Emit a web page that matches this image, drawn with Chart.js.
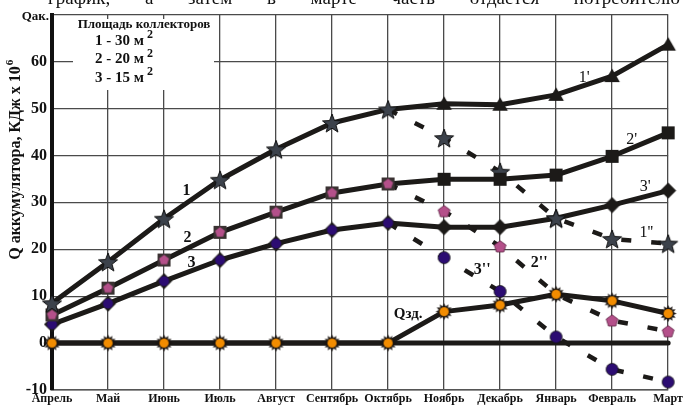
<!DOCTYPE html>
<html><head><meta charset="utf-8">
<script src="https://cdn.jsdelivr.net/npm/chart.js@4.4.1/dist/chart.umd.min.js"></script>
<style>html,body{margin:0;padding:0;background:#fff;overflow:hidden}</style>
</head><body>
<canvas id="c" width="685" height="405" style="width:685px;height:405px;display:block"></canvas>
<script>
// ---- data ----
const months = ['Апрель','Май','Июнь','Июль','Август','Сентябрь','Октябрь','Ноябрь','Декабрь','Январь','Февраль','Март'];
// charging period Apr–Oct (curves 1, 2, 3)
const curve1 = [8.5, 17.3, 26.5, 34.8, 41.3, 46.9, 49.8];
const curve2 = [6.0, 11.7, 17.7, 23.6, 27.9, 32.0, 33.9];
const curve3 = [4.0, 8.4, 13.2, 17.7, 21.2, 24.1, 25.6];
// Oct–Mar without consumption (1', 2', 3')
const curve1a = [49.8, 51.0, 50.8, 52.9, 56.9, 63.6];
const curve2a = [33.9, 34.9, 34.9, 35.8, 39.8, 44.8];
const curve3a = [25.6, 24.7, 24.7, 26.6, 29.4, 32.5];
// Oct–Mar with consumption (1'', 2'', 3'')
const curve1b = [49.8, 43.7, 36.5, 26.6, 22.2, 21.2];
const curve2b = [33.9, 28.1, 20.6, 10.4, 4.8, 2.5];
const curve3b = [25.6, 18.2, 11.0, 1.3, -5.6, -8.3];
// building heat demand Qзд
const qzd = [0, 0, 0, 0, 0, 0, 0, 6.7, 8.1, 10.4, 9.0, 6.3];
const yMin = -10, yMax = 70, yStep = 10;

// ---- marker images ----
function mk(size, fn){const c=document.createElement('canvas');c.width=c.height=size;const g=c.getContext('2d');fn(g,size/2);return c;}
function starPath(g,cx,cy,ro,ri,n){g.beginPath();for(let i=0;i<2*n;i++){const r=i%2?ri:ro;const a=-Math.PI/2+i*Math.PI/n;const x=cx+r*Math.cos(a),y=cy+r*Math.sin(a);i?g.lineTo(x,y):g.moveTo(x,y);}g.closePath();}
function polyPath(g,cx,cy,r,n,rot){g.beginPath();for(let i=0;i<n;i++){const a=rot+i*2*Math.PI/n;const x=cx+r*Math.cos(a),y=cy+r*Math.sin(a);i?g.lineTo(x,y):g.moveTo(x,y);}g.closePath();}
const PINK='#b4508a', NAVY='#2c0c72', ORANGE='#f28c00', DARK='#1c1a18';
const mStar = mk(22,(g,c)=>{starPath(g,c,c+1,10,4.2,5);g.fillStyle='#3c424b';g.fill();g.lineWidth=1;g.strokeStyle='#111';g.stroke();});
const mTri = mk(20,(g,c)=>{polyPath(g,c,c+1.5,9,3,-Math.PI/2);g.fillStyle=DARK;g.fill();});
const mSq = mk(15,(g,c)=>{g.fillStyle=DARK;g.fillRect(1,1,13,13);});
const mDia = mk(17,(g,c)=>{polyPath(g,c,c,8,4,-Math.PI/2);g.fillStyle=DARK;g.fill();});
const mPentSq = mk(15,(g,c)=>{g.fillStyle='#3a3232';g.fillRect(1,1,13,13);polyPath(g,c,c,5.2,5,-Math.PI/2);g.fillStyle=PINK;g.fill();});
const mPent = mk(15,(g,c)=>{polyPath(g,c,c+0.5,6.2,5,-Math.PI/2);g.fillStyle=PINK;g.fill();g.lineWidth=0.8;g.strokeStyle='#5a2040';g.stroke();});
const mCircDia = mk(17,(g,c)=>{polyPath(g,c,c,8,4,-Math.PI/2);g.fillStyle=DARK;g.fill();g.beginPath();g.arc(c,c,5,0,2*Math.PI);g.fillStyle=NAVY;g.fill();});
const mCirc = mk(15,(g,c)=>{g.beginPath();g.arc(c,c,6,0,2*Math.PI);g.fillStyle=NAVY;g.fill();g.lineWidth=0.8;g.strokeStyle='#111';g.stroke();});
const mSun = mk(19,(g,c)=>{starPath(g,c,c,8.5,5.5,12);g.fillStyle='#1a1410';g.fill();g.beginPath();g.arc(c,c,4.6,0,2*Math.PI);g.fillStyle=ORANGE;g.fill();});

// ---- build datasets ----
const pre = v => v.concat(Array(12 - v.length).fill(null));          // Apr–Oct
const post = v => Array(12 - v.length).fill(null).concat(v);         // Oct–Mar
function styles(n, style, hidden, overrides){const s=[],r=[];for(let i=0;i<12;i++){s.push((overrides&&overrides[i])||style);r.push(hidden.includes(i)?0:6);}return {pointStyle:s,pointRadius:r};}
const solid = {borderColor:DARK,borderWidth:5,borderJoinStyle:'round',borderCapStyle:'round',tension:0,clip:false,spanGaps:false};
const dashed = {borderColor:DARK,borderWidth:4.5,borderDash:[10,20],borderCapStyle:'butt',tension:0,clip:false,spanGaps:false};

const datasets = [
  Object.assign({label:'Qзд',data:qzd,order:1},solid,styles(12,mSun,[])),
  Object.assign({label:'1',data:pre(curve1),order:2},solid,styles(12,mStar,[])),
  Object.assign({label:'2',data:pre(curve2),order:2},solid,styles(12,mPentSq,[])),
  Object.assign({label:'3',data:pre(curve3),order:2},solid,styles(12,mCircDia,[])),
  Object.assign({label:"1'",data:post(curve1a),order:3},solid,styles(12,mTri,[6])),
  Object.assign({label:"2'",data:post(curve2a),order:3},solid,styles(12,mSq,[6])),
  Object.assign({label:"3'",data:post(curve3a),order:3},solid,styles(12,mDia,[6],{9:mStar})),
  Object.assign({label:"1''",data:post(curve1b),order:4},dashed,styles(12,mStar,[6])),
  Object.assign({label:"2''",data:post(curve2b),order:4},dashed,styles(12,mPent,[6,9])),
  Object.assign({label:"3''",data:post(curve3b),order:4},dashed,styles(12,mCirc,[6])),
  Object.assign({label:'zero',data:months.map(()=>0),order:9},solid,{pointRadius:0})
];

// annotation labels in data coordinates (category index, value)
const curveLabels = [
  {t:'1',x:2.40,y:32.5,b:true},{t:'2',x:2.42,y:22.5,b:true},{t:'3',x:2.49,y:17.2,b:true},
  {t:"1'",x:9.50,y:56.6,b:false},{t:"2'",x:10.35,y:43.4,b:false},{t:"3'",x:10.59,y:33.2,b:false},
  {t:"1''",x:10.61,y:23.5,b:false},{t:"2''",x:8.70,y:17.2,b:true},{t:"3''",x:7.68,y:15.7,b:true},
  {t:'Qзд.',x:6.36,y:6.1,b:true,size:15}
];
const legendTitle = 'Площадь коллекторов';
const legendRows = ['1 - 30 м','2 - 20 м','3 - 15 м'];
const yTitle = 'Q аккумулятора, КДж х 10';
const topText = ['график,','а','затем','в','марте','часть','отдается','потребителю'];

const SERIF = '"Liberation Serif","Times New Roman",serif';

const deco = {
  id:'deco',
  beforeDatasetsDraw(chart){
    const g=chart.ctx; g.save();
    g.fillStyle='#fff'; g.fillRect(73,19,141,71);
    g.fillStyle='#111'; g.textBaseline='middle';
    g.font='bold 13px '+SERIF; g.textAlign='center'; g.fillText(legendTitle,144,25);
    g.textAlign='left';
    legendRows.forEach((r,i)=>{
      const y=41+i*18.5;
      g.font='bold 15px '+SERIF; g.fillText(r,95,y);
      const w=g.measureText(r).width;
      g.font='bold 12px '+SERIF; g.fillText('2',95+w+3,y-6);
    });
    g.restore();
  },
  afterDraw(chart){
    const g=chart.ctx, xs=chart.scales.x, ys=chart.scales.y; g.save();
    g.fillStyle='#111'; g.textAlign='center'; g.textBaseline='middle';
    curveLabels.forEach(l=>{
      g.font=(l.b?'bold ':'')+(l.size||16)+'px '+SERIF;
      g.fillText(l.t, xs.getPixelForValue(l.x), ys.getPixelForValue(l.y));
    });
    // Qак. in place of top tick
    g.font='bold 13px '+SERIF; g.textAlign='right';
    g.fillText('Qак.',49,17);
    // y title
    g.save(); g.translate(16,158); g.rotate(-Math.PI/2);
    g.font='bold 16px '+SERIF; g.textAlign='center';
    const w=g.measureText(yTitle).width;
    g.fillText(yTitle,-5,0);
    g.font='bold 11px '+SERIF; g.textAlign='left';
    g.fillText('6',-5+w/2+1,-6);
    g.restore();
    // cropped text line at the top
    g.font='19px '+SERIF; g.textAlign='left'; g.textBaseline='alphabetic';
    const widths=topText.map(t=>g.measureText(t).width);
    const total=widths.reduce((a,b)=>a+b,0);
    const gap=(680-48-total)/(topText.length-1);
    let x=48; topText.forEach((t,i)=>{g.fillText(t,x,4);x+=widths[i]+gap;});
    g.restore();
  }
};

new Chart(document.getElementById('c'),{
  type:'line',
  data:{labels:months,datasets},
  options:{
    responsive:false,animation:false,
    layout:{padding:{top:8,right:10,left:0,bottom:0}},
    plugins:{legend:{display:false},tooltip:{enabled:false}},
    scales:{
      x:{type:'category',offset:false,
        grid:{color:'#4a4a4a',lineWidth:1.3,drawTicks:false},
        border:{color:'#555',width:1.5},
        ticks:{color:'#111',font:{family:SERIF,size:12,weight:'bold'},maxRotation:0,autoSkip:false,padding:2},
        afterFit(s){s.height=15;}
      },
      y:{min:yMin,max:yMax,
        grid:{color:'#4a4a4a',lineWidth:1.3,drawTicks:false},
        border:{color:'#111',width:4},
        ticks:{stepSize:yStep,color:'#111',padding:5,font:{family:SERIF,size:16,weight:'bold'},
          callback:v=>v===yMax?'':String(v)},
        afterFit(s){s.width=52;}
      }
    }
  },
  plugins:[deco]
});
</script>
</body></html>
